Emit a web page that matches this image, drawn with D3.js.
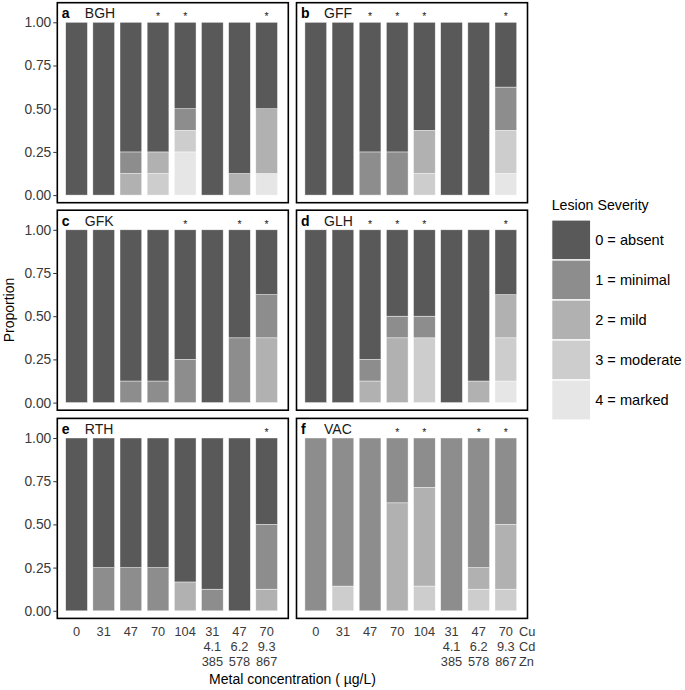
<!DOCTYPE html>
<html>
<head>
<meta charset="utf-8">
<script src="https://cdn.jsdelivr.net/npm/d3@7"></script>
<style>
  body { margin: 0; background: #fff; }
  svg { display: block; font-family: "Liberation Sans", Arial, Helvetica, sans-serif; }
</style>
</head>
<body>
<svg id="chart" width="685" height="690"></svg>
<script>
// ---- data ----
const categories = ["c1","c2","c3","c4","c5","c6","c7","c8"];
const cuLabels = ["0","31","47","70","104","31","47","70"];
const cdLabels = ["","","","","","4.1","6.2","9.3"];
const znLabels = ["","","","","","385","578","867"];
const metals = ["Cu","Cd","Zn"];
const severities = ["0 = absent","1 = minimal","2 = mild","3 = moderate","4 = marked"];
const severityColors = ["#595959","#8d8d8d","#b1b1b1","#cdcdcd","#e6e6e6"];
const panelLetters = ["a","b","c","d","e","f"];
const panelNames = ["BGH","GFF","GFK","GLH","RTH","VAC"];
const yTicks = [0, 0.25, 0.5, 0.75, 1];

// proportions per bar: [absent, minimal, mild, moderate, marked]
const bgh = [[1,0,0,0,0],[1,0,0,0,0],[0.75,0.125,0.125,0,0],[0.75,0,0.125,0.125,0],
             [0.5,0.125,0,0.125,0.25],[1,0,0,0,0],[0.875,0,0.125,0,0],[0.5,0,0.375,0,0.125]];
const gff = [[1,0,0,0,0],[1,0,0,0,0],[0.75,0.25,0,0,0],[0.75,0.25,0,0,0],
             [0.625,0,0.25,0.125,0],[1,0,0,0,0],[1,0,0,0,0],[0.375,0.25,0,0.25,0.125]];
const gfk = [[1,0,0,0,0],[1,0,0,0,0],[0.875,0.125,0,0,0],[0.875,0.125,0,0,0],
             [0.75,0.25,0,0,0],[1,0,0,0,0],[0.625,0.375,0,0,0],[0.375,0.25,0.375,0,0]];
const glh = [[1,0,0,0,0],[1,0,0,0,0],[0.75,0.125,0.125,0,0],[0.5,0.125,0.375,0,0],
             [0.5,0.125,0,0.375,0],[1,0,0,0,0],[0.875,0,0.125,0,0],[0.375,0,0.25,0.25,0.125]];
const rth = [[1,0,0,0,0],[0.75,0.25,0,0,0],[0.75,0.25,0,0,0],[0.75,0.25,0,0,0],
             [0.833,0,0.167,0,0],[0.875,0.125,0,0,0],[1,0,0,0,0],[0.5,0.375,0.125,0,0]];
const vac = [[0,1,0,0,0],[0,0.857,0,0.143,0],[0,1,0,0,0],[0,0.375,0.625,0,0],
             [0,0.286,0.571,0.143,0],[0,1,0,0,0],[0,0.75,0.125,0.125,0],[0,0.5,0.375,0.125,0]];
const panelData = [bgh, gff, gfk, glh, rth, vac];
// bars marked with an asterisk (indices)
const stars = [[3,4,7],[2,3,4,7],[4,6,7],[2,3,4,7],[7],[3,4,6,7]];

// ---- layout ----
const svg = d3.select("#chart");
const colLeft = [57.3, 296.5];
const panelW = 231;
const rowTop = [2.7, 210.2, 418.4];
const panelH = 200;

const color = d3.scaleOrdinal().domain(d3.range(5)).range(severityColors);

panelData.forEach((data, p) => {
  const col = p % 2, row = Math.floor(p / 2);
  const left = colLeft[col], top = rowTop[row];
  const g = svg.append("g").attr("transform", `translate(${left},${top})`);

  const x = d3.scaleBand().domain(categories).range([8.4, 220.2]).paddingInner(0.2).paddingOuter(0);
  const y = d3.scaleLinear().domain([0, 1]).range([192.4, 19.6]);

  // stacked bars: severity 4 at bottom, 0 at top
  data.forEach((vals, i) => {
    let cum = 0;
    for (let s = 4; s >= 0; s--) {
      const v = vals[s];
      if (v <= 0) continue;
      g.append("rect")
        .attr("x", x(categories[i]))
        .attr("width", x.bandwidth())
        .attr("y", y(cum + v))
        .attr("height", y(cum) - y(cum + v))
        .attr("fill", color(s))
        .attr("stroke", "#ffffff")
        .attr("stroke-opacity", 0.7)
        .attr("stroke-width", 0.6);
      cum += v;
    }
  });

  // stars
  stars[p].forEach(i => {
    g.append("text")
      .attr("x", x(categories[i]) + x.bandwidth() / 2)
      .attr("y", 17.6)
      .attr("text-anchor", "middle")
      .attr("font-size", 10.5)
      .attr("fill", "#222222")
      .text("*");
  });

  // panel labels
  g.append("text").attr("x", 4.4).attr("y", 15.8)
    .attr("font-size", 14).attr("font-weight", "bold").attr("fill", "#000")
    .text(panelLetters[p]);
  g.append("text").attr("x", 27.5).attr("y", 15.8)
    .attr("font-size", 14).attr("fill", "#1a1a1a")
    .text(panelNames[p]);

  // border
  g.append("rect").attr("x", 0).attr("y", 0).attr("width", panelW).attr("height", panelH)
    .attr("fill", "none").attr("stroke", "#000").attr("stroke-width", 1.6);

  // y axis (left column)
  if (col === 0) {
    const ax = d3.axisLeft(y).tickValues(yTicks).tickFormat(d3.format(".2f")).tickSize(4).tickPadding(2);
    const ag = g.append("g").call(ax);
    ag.select(".domain").remove();
    ag.selectAll("line").attr("stroke", "#333").attr("stroke-width", 1);
    ag.selectAll("text").attr("font-size", 13.8).attr("fill", "#3a3a3a")
      .attr("font-family", '"Liberation Sans", Arial, sans-serif');
  }

  // x axis labels (bottom row)
  if (row === 2) {
    const rows = [cuLabels, cdLabels, znLabels];
    const xg = g.append("g").attr("transform", `translate(0,${panelH})`);
    rows.forEach((labs, r) => {
      labs.forEach((lab, i) => {
        if (!lab) return;
        xg.append("text")
          .attr("x", x(categories[i]) + x.bandwidth() / 2)
          .attr("y", 17.8 + r * 15)
          .attr("text-anchor", "middle")
          .attr("font-size", 12.8)
          .attr("fill", "#3a3a3a")
          .text(lab);
      });
    });
    if (col === 1) {
      metals.forEach((m, r) => {
        xg.append("text")
          .attr("x", 222.5)
          .attr("y", 17.8 + r * 15)
          .attr("font-size", 12.8)
          .attr("fill", "#3a3a3a")
          .text(m);
      });
    }
  }
});

// axis titles
svg.append("text")
  .attr("x", 292.5).attr("y", 684)
  .attr("text-anchor", "middle")
  .attr("font-size", 14).attr("fill", "#000")
  .text("Metal concentration ( \u00b5g/L)");

svg.append("text")
  .attr("transform", "translate(13.5,310) rotate(-90)")
  .attr("text-anchor", "middle")
  .attr("font-size", 14).attr("fill", "#000")
  .text("Proportion");

// legend
const lg = svg.append("g").attr("transform", "translate(551.7,0)");
lg.append("text").attr("x", 0).attr("y", 209.5)
  .attr("font-size", 14.2).attr("fill", "#000").text("Lesion Severity");
const ly = d3.scaleBand().domain(d3.range(5)).range([220, 420]);
severities.forEach((lab, i) => {
  lg.append("rect")
    .attr("x", 0).attr("y", ly(i))
    .attr("width", 39).attr("height", ly.bandwidth())
    .attr("fill", color(i))
    .attr("stroke", "#ffffff").attr("stroke-width", 1.2);
  lg.append("text")
    .attr("x", 43.5).attr("y", ly(i) + ly.bandwidth() / 2)
    .attr("dy", "0.36em")
    .attr("font-size", 14.6).attr("fill", "#000")
    .text(lab);
});
</script>
</body>
</html>
